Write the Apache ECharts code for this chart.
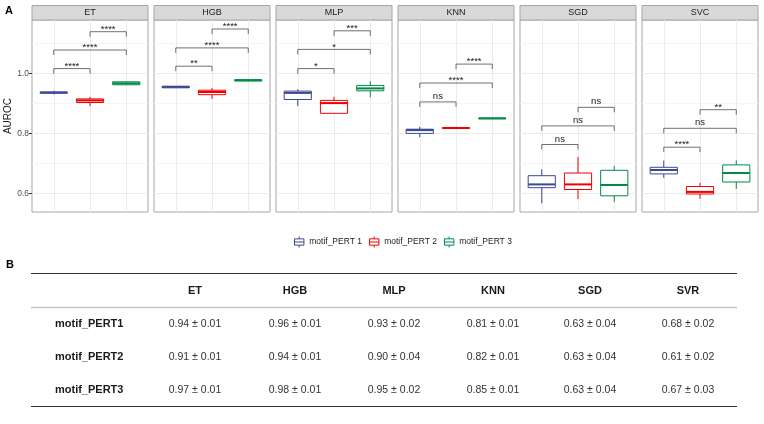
<!DOCTYPE html>
<html>
<head>
<meta charset="utf-8">
<script src="https://cdn.jsdelivr.net/npm/echarts@6/dist/echarts.min.js"></script>
<style>
  html, body { margin: 0; padding: 0; background: #fff; }
  #main { width: 764px; height: 424px; }
</style>
</head>
<body>
<div id="main"></div>
<script>
// ---- data ----
const models = ['ET', 'HGB', 'MLP', 'KNN', 'SGD', 'SVC']
const groups = ['motif_PERT 1', 'motif_PERT 2', 'motif_PERT 3']
const colors = ['#3B4992', '#EE0000', '#008B45']

// box stats per model: [min, q1, median, q3, max]
const pert1Box = [
  [0.930, 0.934, 0.936, 0.938, 0.942],
  [0.951, 0.952, 0.955, 0.957, 0.958],
  [0.891, 0.913, 0.935, 0.941, 0.947],
  [0.787, 0.800, 0.811, 0.814, 0.822],
  [0.567, 0.619, 0.630, 0.659, 0.680],
  [0.652, 0.665, 0.678, 0.687, 0.710]
]
const pert2Box = [
  [0.891, 0.903, 0.910, 0.915, 0.922],
  [0.915, 0.929, 0.938, 0.944, 0.951],
  [0.867, 0.867, 0.901, 0.910, 0.922],
  [0.816, 0.817, 0.818, 0.819, 0.820],
  [0.581, 0.613, 0.630, 0.668, 0.722],
  [0.582, 0.598, 0.605, 0.623, 0.635]
]
const pert3Box = [
  [0.962, 0.962, 0.967, 0.972, 0.974],
  [0.974, 0.975, 0.977, 0.979, 0.980],
  [0.920, 0.942, 0.950, 0.960, 0.974],
  [0.848, 0.849, 0.850, 0.851, 0.852],
  [0.572, 0.592, 0.628, 0.677, 0.691],
  [0.615, 0.638, 0.668, 0.695, 0.710]
]

// significance brackets per model: [from, to, y, label]
const brackets = [
  [[1, 2, 1.016, '****'], [1, 3, 1.078, '****'], [2, 3, 1.139, '****']],
  [[1, 2, 1.024, '**'], [1, 3, 1.085, '****'], [2, 3, 1.148, '****']],
  [[1, 2, 1.016, '*'], [1, 3, 1.080, '*'], [2, 3, 1.142, '***']],
  [[1, 2, 0.905, 'ns'], [1, 3, 0.968, '****'], [2, 3, 1.031, '****']],
  [[1, 2, 0.763, 'ns'], [1, 3, 0.825, 'ns'], [2, 3, 0.887, 'ns']],
  [[1, 2, 0.754, '****'], [1, 3, 0.817, 'ns'], [2, 3, 0.879, '**']]
]

const yMajor = [0.6, 0.8, 1.0]
const yAll = [0.6, 0.7, 0.8, 0.9, 1.0, 1.1]

// table B
const tableCols = ['ET', 'HGB', 'MLP', 'KNN', 'SGD', 'SVR']
const tableRows = ['motif_PERT1', 'motif_PERT2', 'motif_PERT3']
const tableMean = [
  [0.94, 0.96, 0.93, 0.81, 0.63, 0.68],
  [0.91, 0.94, 0.90, 0.82, 0.63, 0.61],
  [0.97, 0.98, 0.95, 0.85, 0.63, 0.67]
]
const tableSd = [
  [0.01, 0.01, 0.02, 0.01, 0.04, 0.02],
  [0.01, 0.01, 0.04, 0.01, 0.04, 0.02],
  [0.01, 0.01, 0.02, 0.01, 0.04, 0.03]
]

// ---- layout ----
const font = 'Liberation Sans, Arial, sans-serif'
const panelLeft = 32
const panelStep = 122
const panelW = 116
const panelTop = 20
const panelH = 192
const yMin = 0.538
const yMax = 1.178

const boxData = [pert1Box, pert2Box, pert3Box]

let grids = []
let xAxes = []
let yAxes = []
let series = []
let graphics = []

models.forEach((m, i) => {
  const left = panelLeft + i * panelStep
  grids.push({
    left: left, top: panelTop, width: panelW, height: panelH,
    show: true, borderColor: '#A6A6A6', borderWidth: 1, backgroundColor: '#fff'
  })
  xAxes.push({
    gridIndex: i, type: 'value', min: 0.4, max: 3.6,
    axisLine: { show: false },
    axisTick: { show: false, customValues: [1, 2, 3] },
    axisLabel: { show: false },
    splitLine: { show: true, lineStyle: { color: '#EBEBEB', width: 1 } }
  })
  yAxes.push({
    gridIndex: i, type: 'value', min: yMin, max: yMax,
    axisLine: { show: false },
    axisTick: { show: false, customValues: yAll },
    axisLabel: { show: false },
    splitLine: { show: true, lineStyle: { color: ['#EBEBEB', '#F5F5F5'], width: 1 } }
  })

  // strip
  graphics.push({
    type: 'rect', shape: { x: left, y: 5.5, width: panelW, height: 14.5 },
    style: { fill: '#D9D9D9', stroke: '#A6A6A6', lineWidth: 1 }
  })
  graphics.push({
    type: 'text', x: left + panelW / 2, y: 13,
    style: { text: m, fontSize: 9, fontFamily: font, fill: '#1A1A1A', align: 'center', verticalAlign: 'middle' }
  })

  // boxes
  groups.forEach((g, k) => {
    series.push({
      name: g,
      type: 'custom',
      xAxisIndex: i,
      yAxisIndex: i,
      itemStyle: { color: colors[k] },
      data: [[k + 1].concat(boxData[k][i])],
      renderItem: (params, api) => {
        const x = api.value(0)
        const lo = api.coord([x, api.value(1)])
        const q1 = api.coord([x, api.value(2)])
        const med = api.coord([x, api.value(3)])
        const q3 = api.coord([x, api.value(4)])
        const hi = api.coord([x, api.value(5)])
        const half = api.size([0.75, 0])[0] / 2
        const c = lo[0]
        const col = colors[k]
        return {
          type: 'group',
          children: [
            { type: 'line', shape: { x1: c, y1: lo[1], x2: c, y2: q1[1] }, style: { stroke: col, lineWidth: 1 } },
            { type: 'line', shape: { x1: c, y1: q3[1], x2: c, y2: hi[1] }, style: { stroke: col, lineWidth: 1 } },
            { type: 'rect', shape: { x: c - half, y: q3[1], width: half * 2, height: q1[1] - q3[1] }, style: { fill: '#fff', stroke: col, lineWidth: 1 } },
            { type: 'line', shape: { x1: c - half, y1: med[1], x2: c + half, y2: med[1] }, style: { stroke: col, lineWidth: 2 } }
          ]
        }
      }
    })
  })

  // significance brackets
  series.push({
    type: 'custom',
    xAxisIndex: i,
    yAxisIndex: i,
    silent: true,
    data: brackets[i].map(b => [b[0], b[1], b[2]]),
    renderItem: (params, api) => {
      const a = api.coord([api.value(0), api.value(2)])
      const b = api.coord([api.value(1), api.value(2)])
      const label = brackets[i][params.dataIndex][3]
      const isStar = label.indexOf('*') >= 0
      const tip = 5
      return {
        type: 'group',
        children: [
          {
            type: 'polyline',
            shape: { points: [[a[0], a[1] + tip], [a[0], a[1]], [b[0], b[1]], [b[0], b[1] + tip]] },
            style: { stroke: '#4D4D4D', fill: null, lineWidth: 0.8 }
          },
          {
            type: 'text', x: (a[0] + b[0]) / 2, y: isStar ? a[1] + 2.5 : a[1] - 0.5,
            style: { text: label, fontSize: 9.5, fontFamily: font, fill: '#1A1A1A', align: 'center', verticalAlign: 'bottom' }
          }
        ]
      }
    }
  })
})

// y labels on first panel
yAxes.push({
  gridIndex: 0, type: 'value', min: yMin, max: yMax, position: 'left',
  axisLine: { show: false },
  axisTick: { show: true, length: 3, customValues: yMajor, lineStyle: { color: '#333', width: 1 } },
  axisLabel: { customValues: yMajor, formatter: v => v.toFixed(1), fontSize: 8.5, fontFamily: font, color: '#4D4D4D', margin: 3 },
  splitLine: { show: false },
  name: 'AUROC', nameLocation: 'middle', nameGap: 16,
  nameTextStyle: { fontSize: 10, fontFamily: font, color: '#1A1A1A' }
})

// panel letters
graphics.push({ type: 'text', x: 5, y: 10.5, style: { text: 'A', fontSize: 11, fontWeight: 'bold', fontFamily: font, fill: '#000', verticalAlign: 'middle' } })
graphics.push({ type: 'text', x: 6, y: 265, style: { text: 'B', fontSize: 11, fontWeight: 'bold', fontFamily: font, fill: '#000', verticalAlign: 'middle' } })

// table B
const tblLeft = 31
const tblRight = 737
const colX = [195, 295, 394, 493, 590, 688]
const rowY = [324, 357.3, 390]
graphics.push({ type: 'line', shape: { x1: tblLeft, y1: 273.5, x2: tblRight, y2: 273.5 }, style: { stroke: '#333', lineWidth: 1 } })
graphics.push({ type: 'line', shape: { x1: tblLeft, y1: 307.5, x2: tblRight, y2: 307.5 }, style: { stroke: '#C8C8C8', lineWidth: 1.5 } })
graphics.push({ type: 'line', shape: { x1: tblLeft, y1: 406.5, x2: tblRight, y2: 406.5 }, style: { stroke: '#333', lineWidth: 1 } })
tableCols.forEach((c, j) => {
  graphics.push({ type: 'text', x: colX[j], y: 291, style: { text: c, fontSize: 11, fontWeight: 'bold', fontFamily: font, fill: '#1A1A1A', align: 'center', verticalAlign: 'middle' } })
})
tableRows.forEach((r, ri) => {
  graphics.push({ type: 'text', x: 55, y: rowY[ri], style: { text: r, fontSize: 11, fontWeight: 'bold', fontFamily: font, fill: '#1A1A1A', align: 'left', verticalAlign: 'middle' } })
  tableCols.forEach((c, j) => {
    const txt = tableMean[ri][j].toFixed(2) + ' \u00B1 ' + tableSd[ri][j].toFixed(2)
    graphics.push({ type: 'text', x: colX[j], y: rowY[ri], style: { text: txt, fontSize: 10.5, fontFamily: font, fill: '#333', align: 'center', verticalAlign: 'middle' } })
  })
})

const iconPath = 'path://M0,3H12V11H0Z M0,7H12 M6,0V3 M6,11V14'

let myChart = echarts.init(document.getElementById('main'), null, { renderer: 'canvas' })
myChart.setOption({
  backgroundColor: '#fff',
  animation: false,
  textStyle: { fontFamily: font },
  grid: grids,
  xAxis: xAxes,
  yAxis: yAxes,
  legend: {
    top: 231, left: 289,
    itemWidth: 10, itemHeight: 11, itemGap: 7,
    textStyle: { fontSize: 8.5, color: '#1A1A1A', fontFamily: font },
    data: groups.map((g, k) => ({
      name: g, icon: iconPath,
      itemStyle: { color: '#fff', borderColor: colors[k], borderWidth: 1 }
    }))
  },
  graphic: graphics,
  series: series
})
</script>
</body>
</html>
